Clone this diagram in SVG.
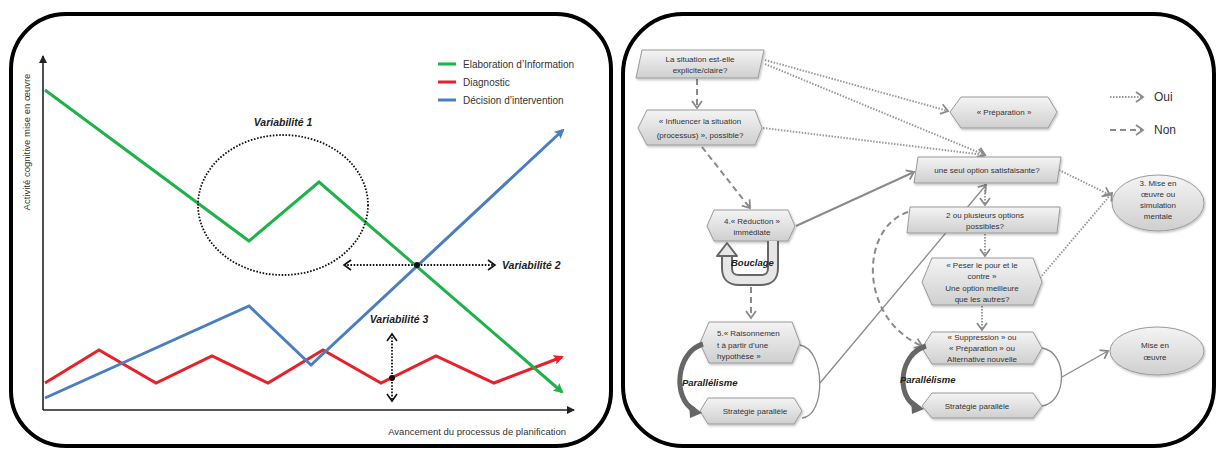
<svg xmlns="http://www.w3.org/2000/svg" width="1220" height="450" viewBox="0 0 1220 450">
  <style>
    .panel { fill: #ffffff; stroke: #000000; stroke-width: 4; }
    .axis { stroke: #222222; stroke-width: 1.6; fill: none; }
    .series { fill: none; stroke-width: 3; stroke-linejoin: miter; }
    .green { stroke: #1fb14a; }
    .red { stroke: #e8202a; }
    .blue { stroke: #4a7ebf; }
    .leg { font-family: "Liberation Sans", Arial, sans-serif; font-size: 10px; fill: #333333; }
    .var { font-family: "Liberation Sans", Arial, sans-serif; font-size: 10.5px; font-weight: bold; font-style: italic; fill: #222222; }
    .ax { font-family: "Liberation Sans", Arial, sans-serif; font-size: 9.5px; fill: #333333; }
    .dotk { fill: none; stroke: #111111; stroke-width: 1.8; stroke-dasharray: 1.6 1.6; }
    .node { fill: url(#nodeGrad); stroke: #9a9a9a; stroke-width: 1; filter: url(#shadow); }
    .nt { font-family: "Liberation Sans", Arial, sans-serif; font-size: 8px; fill: #333333; text-anchor: middle; }
    .ntl { font-family: "Liberation Sans", Arial, sans-serif; font-size: 8px; fill: #333333; }
    .lbl { font-family: "Liberation Sans", Arial, sans-serif; font-size: 9.5px; font-weight: bold; font-style: italic; fill: #222222; }
    .oui { fill: none; stroke: #9a9a9a; stroke-width: 2; stroke-dasharray: 1.5 1.5; }
    .non { fill: none; stroke: #8a8a8a; stroke-width: 2; stroke-dasharray: 6 4; }
    .solid { fill: none; stroke: #8a8a8a; stroke-width: 2; }
    .thin { fill: none; stroke: #8a8a8a; stroke-width: 1.3; }
    .legbig { font-family: "Liberation Sans", Arial, sans-serif; font-size: 12px; fill: #333333; }
  </style>
  <defs>
    <linearGradient id="nodeGrad" x1="0" y1="0" x2="0" y2="1">
      <stop offset="0" stop-color="#f4f4f4"/>
      <stop offset="1" stop-color="#cfcfcf"/>
    </linearGradient>
    <filter id="shadow" x="-10%" y="-20%" width="130%" height="150%">
      <feDropShadow dx="1" dy="1.5" stdDeviation="1" flood-color="#000000" flood-opacity="0.25"/>
    </filter>
    <marker id="axArrow" markerWidth="8" markerHeight="8" refX="7" refY="4" orient="auto" markerUnits="userSpaceOnUse">
      <path d="M0,0 L8,4 L0,8 Z" fill="#222222"/>
    </marker>
    <marker id="gArrow" markerWidth="10" markerHeight="10" refX="8" refY="5" orient="auto" markerUnits="userSpaceOnUse">
      <path d="M0,0 L10,5 L0,10 L2,5 Z" fill="#1fb14a"/>
    </marker>
    <marker id="rArrow" markerWidth="10" markerHeight="10" refX="8" refY="5" orient="auto" markerUnits="userSpaceOnUse">
      <path d="M0,0 L10,5 L0,10 L2,5 Z" fill="#e8202a"/>
    </marker>
    <marker id="bArrow" markerWidth="10" markerHeight="10" refX="8" refY="5" orient="auto" markerUnits="userSpaceOnUse">
      <path d="M0,0 L10,5 L0,10 L2,5 Z" fill="#4a7ebf"/>
    </marker>
    <marker id="kChev" markerWidth="10" markerHeight="12" refX="8" refY="6" orient="auto-start-reverse" markerUnits="userSpaceOnUse">
      <path d="M1,1 L8,6 L1,11" fill="none" stroke="#111111" stroke-width="1.6"/>
    </marker>
    <marker id="gChev" markerWidth="10" markerHeight="12" refX="8" refY="6" orient="auto" markerUnits="userSpaceOnUse">
      <path d="M1,1 L8,6 L1,11" fill="none" stroke="#8a8a8a" stroke-width="1.8"/>
    </marker>
  </defs>

  <!-- Left panel: evolution of cognitive activities -->
  <g id="panel-chart">
    <rect class="panel" x="11" y="14" width="600" height="432" rx="55" ry="55"/>
    <line class="axis" x1="43" y1="410" x2="43" y2="56" marker-end="url(#axArrow)"/>
    <line class="axis" x1="43" y1="410" x2="574" y2="410" marker-end="url(#axArrow)"/>
    <text class="ax" transform="translate(30,142) rotate(-90)" text-anchor="middle">Activité cognitive mise en œuvre</text>
    <text class="ax" x="566" y="435" text-anchor="end">Avancement du processus de planification</text>

    <!-- legend -->
    <line x1="438" y1="64" x2="456" y2="64" stroke="#1fb14a" stroke-width="3"/>
    <line x1="438" y1="82" x2="456" y2="82" stroke="#e8202a" stroke-width="3"/>
    <line x1="438" y1="100" x2="456" y2="100" stroke="#4a7ebf" stroke-width="3"/>
    <text class="leg" x="463" y="68">Elaboration d’Information</text>
    <text class="leg" x="463" y="86">Diagnostic</text>
    <text class="leg" x="463" y="104">Décision d’intervention</text>

    <!-- series -->
    <polyline class="series red" points="45,383 99,350 156,383 212,356 268,383 323,350 381,383 436,356 494,383 562,357" marker-end="url(#rArrow)"/>
    <polyline class="series blue" points="45,398 249,306 311,365 563,130" marker-end="url(#bArrow)"/>
    <polyline class="series green" points="45,90 249,241 319,182 562,392" marker-end="url(#gArrow)"/>

    <!-- variability markers -->
    <ellipse class="dotk" cx="283" cy="205" rx="85" ry="70"/>
    <text class="var" x="283" y="126" text-anchor="middle">Variabilité 1</text>
    <line class="dotk" x1="344" y1="265" x2="495" y2="265" marker-start="url(#kChev)" marker-end="url(#kChev)"/>
    <circle cx="417" cy="265" r="3" fill="#111111"/>
    <text class="var" x="502" y="269">Variabilité 2</text>
    <line class="dotk" x1="392" y1="334" x2="392" y2="401" marker-start="url(#kChev)" marker-end="url(#kChev)"/>
    <circle cx="392" cy="378" r="3" fill="#111111"/>
    <text class="var" x="399" y="323" text-anchor="middle">Variabilité 3</text>
  </g>

  <!-- Right panel frame -->
  <g id="panel-flow">
    <rect class="panel" x="623" y="14" width="591" height="432" rx="60" ry="60"/>
  </g>

  <!-- Connectors of the decision flow -->
  <g id="connectors">
    <!-- Oui (dotted) -->
    <line class="oui" x1="765" y1="60" x2="948" y2="111" marker-end="url(#gChev)"/>
    <line class="oui" x1="765" y1="64" x2="985" y2="155" marker-end="url(#gChev)"/>
    <line class="oui" x1="763" y1="128" x2="985" y2="155" marker-end="url(#gChev)"/>
    <line class="oui" x1="1059" y1="170" x2="1110" y2="195" marker-end="url(#gChev)"/>
    <line class="oui" x1="1040" y1="278" x2="1112" y2="193" marker-end="url(#gChev)"/>
    <line class="oui" x1="985" y1="184" x2="985" y2="205" marker-end="url(#gChev)"/>
    <line class="oui" x1="985" y1="234" x2="985" y2="256" marker-end="url(#gChev)"/>
    <line class="oui" x1="982" y1="306" x2="982" y2="330" marker-end="url(#gChev)"/>
    <!-- Non (dashed) -->
    <line class="non" x1="697" y1="79" x2="697" y2="108" marker-end="url(#gChev)"/>
    <line class="non" x1="702" y1="147" x2="750" y2="208" marker-end="url(#gChev)"/>
    <line class="non" x1="751" y1="287" x2="751" y2="318" marker-end="url(#gChev)"/>
    <path class="non" d="M908,212 C860,228 858,318 922,346" marker-end="url(#gChev)"/>
    <!-- solid -->
    <line class="solid" x1="796" y1="226" x2="914" y2="172" marker-end="url(#gChev)"/>
    <line class="thin" x1="820" y1="383" x2="986" y2="185" marker-end="url(#gChev)"/>
    <line class="thin" x1="1062" y1="377" x2="1108" y2="351" marker-end="url(#gChev)"/>
    <!-- parallel brackets -->
    <path class="thin" d="M800,345 C826,350 826,416 802,418"/>
    <path class="thin" d="M1042,348 C1068,352 1068,402 1042,406"/>
    <!-- legend -->
    <line class="oui" x1="1110" y1="97" x2="1143" y2="97" marker-end="url(#gChev)"/>
    <line class="non" x1="1110" y1="130" x2="1143" y2="130" marker-end="url(#gChev)"/>
  </g>

  <g id="legend-labels">
    <text class="legbig" x="1154" y="101">Oui</text>
    <text class="legbig" x="1154" y="134">Non</text>
  </g>

  <g id="n-explicite">
    <polygon class="node" points="642,50 764,50 758,78 636,78"/>
    <text class="nt" x="700" y="62">La situation est-elle</text>
    <text class="nt" x="700" y="73">explicite/claire?</text>
  </g>

  <g id="n-influencer">
    <polygon class="node" points="638,128 647,110 755,110 762,128 755,145 647,145"/>
    <text class="nt" x="700" y="124">« Influencer la situation</text>
    <text class="nt" x="700" y="138">(processus) », possible?</text>
  </g>

  <g id="n-reduction">
    <polygon class="node" points="707,226 714,210 788,210 795,226 788,241 714,241"/>
    <text class="nt" x="752" y="224">4.« Réduction »</text>
    <text class="nt" x="752" y="235">immédiate</text>
  </g>

  <g id="n-bouclage">
    <path d="M773,241 L773,268 Q773,280 761,280 L739,280 Q727,280 727,268 L727,256" fill="none" stroke="#666666" stroke-width="12"/>
    <path d="M773,241 L773,268 Q773,280 761,280 L739,280 Q727,280 727,268 L727,254" fill="none" stroke="#e6e6e6" stroke-width="8"/>
    <polygon points="717,256 727,243 737,256" fill="#e6e6e6" stroke="#666666" stroke-width="2" stroke-linejoin="round"/>
    <text class="lbl" x="731" y="266">Bouclage</text>
  </g>

  <g id="n-raisonnement">
    <polygon class="node" points="700,343 709,322 792,322 800,343 792,363 709,363"/>
    <text class="ntl" x="717" y="336">5.« Raisonnemen</text>
    <text class="ntl" x="717" y="348">t à partir d’une</text>
    <text class="ntl" x="717" y="359">hypothèse »</text>
  </g>

  <g id="n-strategie-1">
    <polygon class="node" points="700,411 708,398 794,398 802,411 794,424 708,424"/>
    <text class="nt" x="755" y="414">Stratégie parallèle</text>
  </g>

  <g id="n-parallelisme-1">
    <path d="M703,344 C676,352 672,398 694,410" fill="none" stroke="#666666" stroke-width="5"/>
    <polygon points="689,403 702,413 690,418" fill="#666666"/>
    <text class="lbl" x="682" y="386">Parallélisme</text>
  </g>

  <g id="n-preparation">
    <polygon class="node" points="950,112 961,97 1048,97 1057,112 1048,128 961,128"/>
    <text class="nt" x="1004" y="115">« Préparation »</text>
  </g>

  <g id="n-une-option">
    <polygon class="node" points="918,157 1061,157 1057,183 914,183"/>
    <text class="nt" x="987" y="173">une seul option satisfaisante?</text>
  </g>

  <g id="n-plusieurs">
    <polygon class="node" points="910,207 1060,207 1057,233 907,233"/>
    <text class="nt" x="985" y="218">2 ou plusieurs options</text>
    <text class="nt" x="985" y="229">possibles?</text>
  </g>

  <g id="n-peser">
    <polygon class="node" points="922,282 932,258 1033,258 1042,282 1033,305 932,305"/>
    <text class="nt" x="982" y="268">« Peser le pour et le</text>
    <text class="nt" x="982" y="279">contre »</text>
    <text class="nt" x="982" y="291">Une option meilleure</text>
    <text class="nt" x="982" y="302">que les autres?</text>
  </g>

  <g id="n-suppression">
    <polygon class="node" points="922,348 932,332 1033,332 1042,348 1033,364 932,364"/>
    <text class="nt" x="982" y="340">« Suppression » ou</text>
    <text class="nt" x="982" y="351">« Préparation » ou</text>
    <text class="nt" x="982" y="362">Alternative nouvelle</text>
  </g>

  <g id="n-strategie-2">
    <polygon class="node" points="922,406 932,393 1033,393 1042,406 1033,418 932,418"/>
    <text class="nt" x="977" y="409">Stratégie parallèle</text>
  </g>

  <g id="n-parallelisme-2">
    <path d="M926,346 C899,354 896,396 916,406" fill="none" stroke="#666666" stroke-width="5"/>
    <polygon points="911,399 924,409 912,414" fill="#666666"/>
    <text class="lbl" x="900" y="383">Parallélisme</text>
  </g>

  <g id="n-simulation">
    <ellipse class="node" cx="1158" cy="203" rx="46" ry="28"/>
    <text class="nt" x="1158" y="186">3. Mise en</text>
    <text class="nt" x="1158" y="197">œuvre ou</text>
    <text class="nt" x="1158" y="208">simulation</text>
    <text class="nt" x="1158" y="219">mentale</text>
  </g>

  <g id="n-mise-en-oeuvre">
    <ellipse class="node" cx="1157" cy="351" rx="47" ry="24"/>
    <text class="nt" x="1155" y="348">Mise en</text>
    <text class="nt" x="1155" y="360">œuvre</text>
  </g>
</svg>
